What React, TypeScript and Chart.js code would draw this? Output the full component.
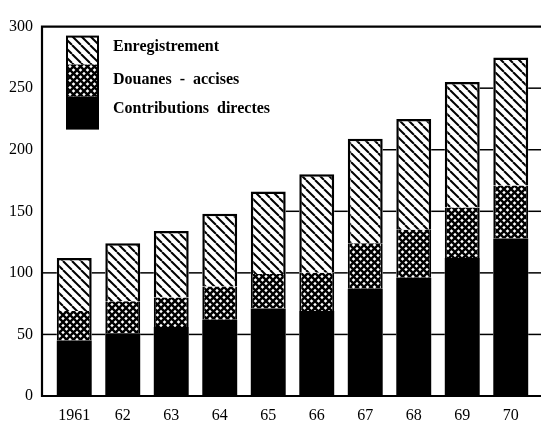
import React, { useEffect, useRef } from "react";
import { Chart, registerables } from "chart.js";

Chart.register(...registerables);

const categories = ["1961", "62", "63", "64", "65", "66", "67", "68", "69", "70"];
const contributionsDirectes = [45, 51, 56, 62, 71, 69, 87, 96, 112, 128];
const douanesAccises = [24, 26, 24, 27, 28, 31, 37, 39, 41, 43];
const enregistrement = [43, 47, 54, 59, 67, 80, 85, 90, 102, 104];
const yTicks = [0, 50, 100, 150, 200, 250, 300];
const legendLabels = ["Enregistrement", "Douanes  -  accises", "Contributions  directes"];

function makeDiag(): CanvasPattern | string {
  const c = document.createElement("canvas");
  const s = 9;
  c.width = s;
  c.height = s;
  const g = c.getContext("2d");
  if (!g) return "#fff";
  g.fillStyle = "#fff";
  g.fillRect(0, 0, s, s);
  g.strokeStyle = "#000";
  g.lineWidth = 2;
  for (const x0 of [-s, 0, s]) {
    g.beginPath();
    g.moveTo(x0, 0);
    g.lineTo(x0 + s, s);
    g.stroke();
  }
  return g.createPattern(c, "repeat") || "#fff";
}

function makeCross(): CanvasPattern | string {
  const c = document.createElement("canvas");
  const s = 7;
  c.width = s;
  c.height = s;
  const g = c.getContext("2d");
  if (!g) return "#888";
  g.fillStyle = "#fff";
  g.fillRect(0, 0, s, s);
  g.strokeStyle = "#000";
  g.lineWidth = 2.4;
  for (const x0 of [-s, 0, s]) {
    g.beginPath();
    g.moveTo(x0, 0);
    g.lineTo(x0 + s, s);
    g.stroke();
    g.beginPath();
    g.moveTo(x0 + s, 0);
    g.lineTo(x0, s);
    g.stroke();
  }
  return g.createPattern(c, "repeat") || "#888";
}

export default function App() {
  const ref = useRef<HTMLCanvasElement | null>(null);

  useEffect(() => {
    document.body.style.margin = "0";
    const canvas = ref.current;
    if (!canvas) return;
    const diag = makeDiag();
    const cross = makeCross();
    const totals = categories.map(
      (_, i) => contributionsDirectes[i] + douanesAccises[i] + enregistrement[i]
    );

    const framePlugin = {
      id: "frame",
      afterDatasetsDraw(chart: any) {
        const ctx = chart.ctx;
        const area = chart.chartArea;
        const y = chart.scales.y;
        const W = chart.width;
        const axisX = area.left - 8;
        const yTop = y.getPixelForValue(300);
        const yBot = y.getPixelForValue(0);
        ctx.save();
        ctx.strokeStyle = "#000";
        ctx.lineCap = "butt";
        const meta = chart.getDatasetMeta(0);
        const bars = meta.data.map((b: any) => {
          const p = b.getProps(["x", "width"], true);
          return { l: p.x - p.width / 2, r: p.x + p.width / 2 };
        });
        ctx.lineWidth = 1.5;
        for (const v of yTicks) {
          if (v === 0 || v === 300) continue;
          const py = y.getPixelForValue(v);
          for (let i = 0; i <= bars.length; i++) {
            const leftT = i === 0 ? Infinity : totals[i - 1];
            const rightT = i === bars.length ? Infinity : totals[i];
            if (v >= Math.min(leftT, rightT)) continue;
            const x1 = i === 0 ? axisX : bars[i - 1].r;
            const x2 = i === bars.length ? W : bars[i].l;
            ctx.beginPath();
            ctx.moveTo(x1, py);
            ctx.lineTo(x2, py);
            ctx.stroke();
          }
        }
        ctx.lineWidth = 2.2;
        ctx.beginPath();
        ctx.moveTo(axisX, yTop);
        ctx.lineTo(W, yTop);
        ctx.moveTo(axisX, yBot);
        ctx.lineTo(W, yBot);
        ctx.moveTo(axisX, yTop - 1);
        ctx.lineTo(axisX, yBot + 1);
        ctx.stroke();

        // legend
        const lx = area.left + 17;
        const lw = 31;
        const ly = area.top + 10;
        const hs = [28, 32, 32];
        const fills = [diag, cross, "#000"];
        let cy = ly;
        for (let k = 0; k < 3; k++) {
          ctx.fillStyle = fills[k] as any;
          ctx.fillRect(lx, cy, lw, hs[k]);
          cy += hs[k];
        }
        ctx.lineWidth = 2;
        ctx.strokeRect(lx, ly, lw, hs[0] + hs[1] + hs[2]);
        ctx.fillStyle = "#000";
        ctx.font = "bold 16px 'Liberation Serif', serif";
        ctx.textBaseline = "middle";
        ctx.textAlign = "left";
        const ty = [ly + 10, ly + 43, ly + 72];
        for (let k = 0; k < 3; k++) {
          ctx.fillText(legendLabels[k], lx + 46, ty[k]);
        }
        ctx.restore();
      },
    };

    const chart = new Chart(canvas, {
      type: "bar",
      data: {
        labels: categories,
        datasets: [
          {
            label: "Contributions directes",
            data: contributionsDirectes,
            backgroundColor: "#000",
            borderColor: "#000",
            borderWidth: 0,
            stack: "s",
          },
          {
            label: "Douanes - accises",
            data: douanesAccises,
            backgroundColor: cross as any,
            borderColor: "#000",
            borderWidth: { left: 2, right: 2, top: 0, bottom: 0 },
            borderSkipped: false,
            stack: "s",
          },
          {
            label: "Enregistrement",
            data: enregistrement,
            backgroundColor: diag as any,
            borderColor: "#000",
            borderWidth: { left: 2.5, right: 2.5, top: 2.5, bottom: 0 },
            borderSkipped: false,
            stack: "s",
          },
        ],
      },
      options: {
        responsive: false,
        animation: false,
        devicePixelRatio: 1,
        layout: { padding: { top: 20, right: 6, left: 0, bottom: 0 } },
        plugins: { legend: { display: false }, tooltip: { enabled: false } },
        datasets: { bar: { barPercentage: 0.72, categoryPercentage: 1 } },
        scales: {
          x: {
            stacked: true,
            afterFit: (s: any) => {
              s.height = 28;
            },
            grid: { display: false, drawTicks: false },
            border: { display: false },
            ticks: {
              color: "#000",
              padding: 10,
              maxRotation: 0,
              autoSkip: false,
              font: { family: "'Liberation Serif', serif", size: 16 },
            },
          },
          y: {
            stacked: true,
            min: 0,
            max: 300,
            afterFit: (s: any) => {
              s.width = 50;
            },
            grid: { display: false, drawTicks: false },
            border: { display: false },
            ticks: {
              stepSize: 50,
              color: "#000",
              padding: 17,
              font: { family: "'Liberation Serif', serif", size: 16 },
            },
          },
        },
      },
      plugins: [framePlugin],
    });
    return () => chart.destroy();
  }, []);

  return (
    <div style={{ width: 541, height: 424, background: "#fff" }}>
      <canvas ref={ref} width={541} height={424} style={{ display: "block" }} />
    </div>
  );
}
